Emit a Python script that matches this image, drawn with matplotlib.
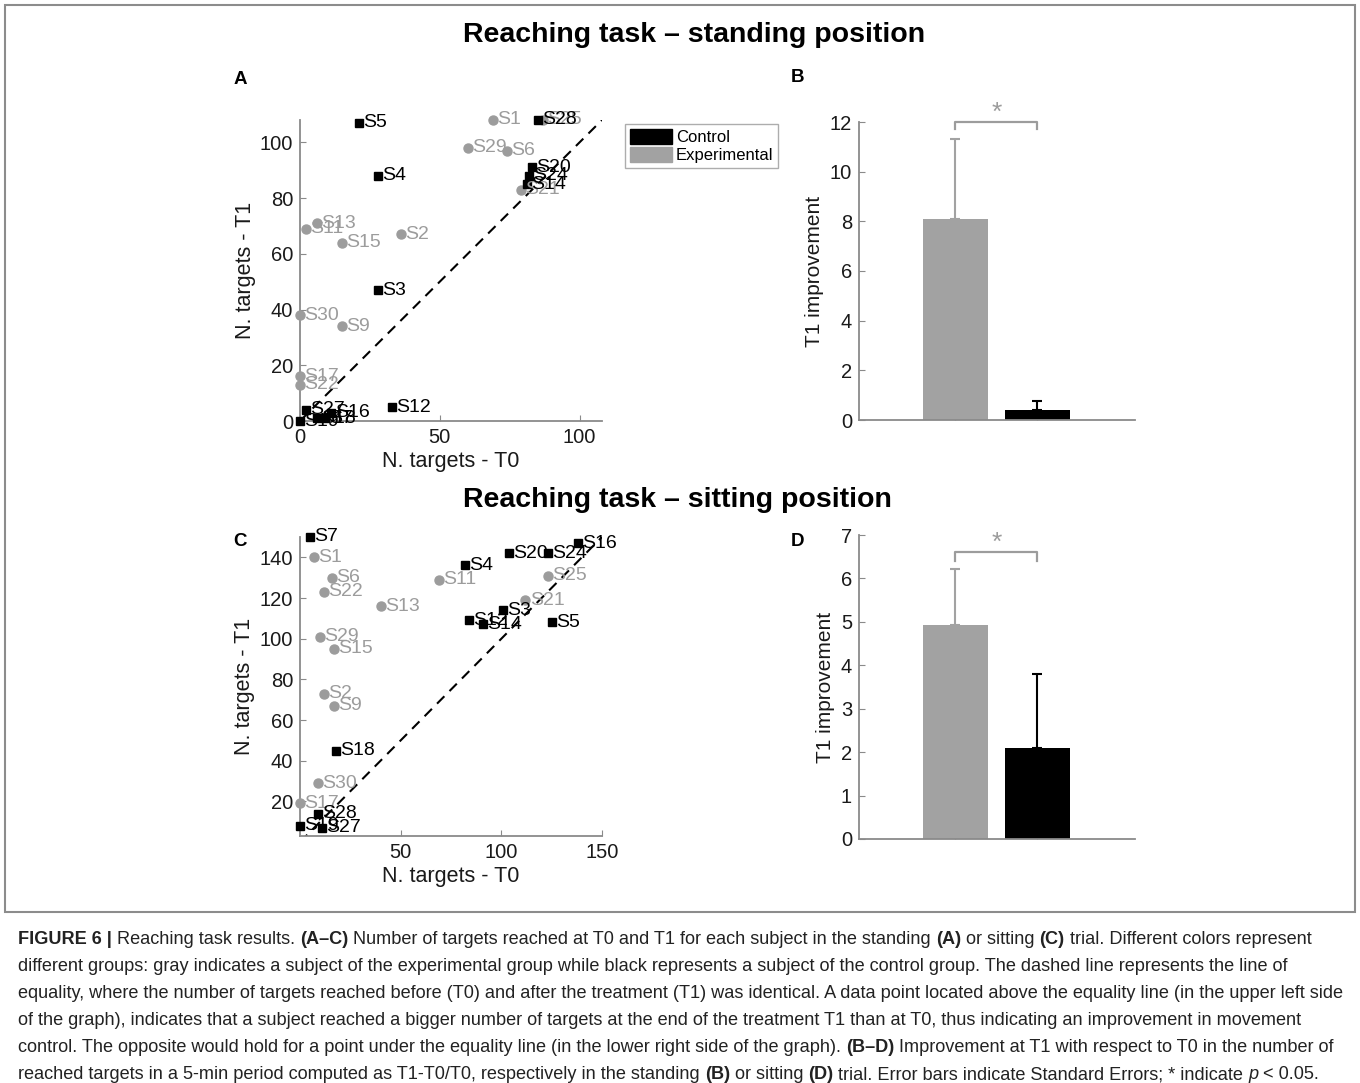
import matplotlib
matplotlib.use('Agg')
import matplotlib.pyplot as plt
from matplotlib.patches import Patch, Rectangle

plt.rcParams['font.family'] = ['Liberation Sans', 'DejaVu Sans']

# ---- data -------------------------------------------------------------
# standing position (panel A): T0 / T1 per subject
a_ctrl_names = ['S5', 'S28', 'S4', 'S20', 'S24', 'S14', 'S3', 'S12', 'S27', 'S16', 'S18', 'S7', 'S19']
a_ctrl_t0 = [21, 85, 28, 83, 82, 81, 28, 33, 2, 11, 6, 9, 0]
a_ctrl_t1 = [107, 108, 88, 91, 88, 85, 47, 5, 4, 3, 1, 1, 0]
a_exp_names = ['S1', 'S25', 'S29', 'S6', 'S21', 'S13', 'S11', 'S15', 'S2', 'S30', 'S9', 'S17', 'S22']
a_exp_t0 = [69, 87, 60, 74, 79, 6, 2, 15, 36, 0, 15, 0, 0]
a_exp_t1 = [108, 108, 98, 97, 83, 71, 69, 64, 67, 38, 34, 16, 13]

# sitting position (panel C)
c_ctrl_names = ['S7', 'S4', 'S20', 'S24', 'S16', 'S3', 'S12', 'S14', 'S5', 'S18', 'S28', 'S19', 'S27']
c_ctrl_t0 = [5, 82, 104, 123, 138, 101, 84, 91, 125, 18, 9, 0, 11]
c_ctrl_t1 = [150, 136, 142, 142, 147, 114, 109, 107, 108, 45, 14, 8, 7]
c_exp_names = ['S1', 'S6', 'S22', 'S13', 'S11', 'S25', 'S21', 'S29', 'S15', 'S2', 'S9', 'S30', 'S17']
c_exp_t0 = [7, 16, 12, 40, 69, 123, 112, 10, 17, 12, 17, 9, 0]
c_exp_t1 = [140, 130, 123, 116, 129, 131, 119, 101, 95, 73, 67, 29, 19]

# T1 improvement (panels B, D): experimental, control
groups = ['Experimental', 'Control']
b_means = [8.1, 0.4]
b_se = [3.2, 0.35]
d_means = [4.93, 2.1]
d_se = [1.29, 1.7]

GRAY = '#9c9c9c'
BARGRAY = '#a2a2a2'
SPINE = '#8a8a8a'
TXT = '#1a1a1a'

W, H = 1360, 1083
fig = plt.figure(figsize=(W / 100, H / 100), dpi=100)


def box(l, t, r, b):
  return [l / W, 1 - b / H, (r - l) / W, (b - t) / H]


def style_axes(ax):
  for s in ['top', 'right']:
    ax.spines[s].set_visible(False)
  for s in ['left', 'bottom']:
    ax.spines[s].set_color(SPINE)
    ax.spines[s].set_linewidth(1.3)
  ax.tick_params(direction='in', length=4, color=SPINE, labelsize=14.5,
                 labelcolor=TXT, pad=5)


def scatter_panel(ax, lim, ctrl, exp):
  ax.plot([0, lim], [0, lim], color='k', lw=1.5, linestyle=(0, (5, 3.5)))
  for names, t0, t1, col, mk, ms in [exp + (GRAY, 'o', 6.5), ctrl + ('k', 's', 5.5)]:
    ax.plot(t0, t1, linestyle='none', marker=mk, ms=ms, color=col,
            clip_on=False, zorder=3)
    for n, x, y in zip(names, t0, t1):
      ax.annotate(n, (x, y), xytext=(3, 0), textcoords='offset points',
                  va='center', ha='left', fontsize=14, color=col,
                  annotation_clip=False, zorder=4)
  ax.set_xlabel('N. targets - T0', fontsize=15.5, color=TXT, labelpad=3)
  ax.set_ylabel('N. targets - T1', fontsize=15.5, color=TXT, labelpad=3)
  style_axes(ax)


def bar_panel(ax, means, se, ymax, yticks, bracket_y):
  xs = [1, 2]
  cols = [BARGRAY, 'k']
  ax.bar(xs, means, width=0.79, color=cols, zorder=2)
  for x, m, e, c in zip(xs, means, se, cols):
    ax.errorbar([x], [m], yerr=[[0], [e]], color=c, lw=1.5, capsize=3.5,
                capthick=1.5, zorder=3)
  ax.set_xlim(-0.177, 3.19)
  ax.set_ylim(0, ymax)
  ax.set_yticks(yticks)
  ax.set_xticks(xs)
  ax.set_xticklabels([])
  ax.set_ylabel('T1 improvement', fontsize=15, color=TXT, labelpad=4)
  style_axes(ax)
  ax.tick_params(axis='x', length=3)
  top, leg = bracket_y
  ax.plot([1, 1, 2, 2], [leg, top, top, leg], color=GRAY, lw=1.6, clip_on=False)
  ax.annotate('*', (1.5, top), xytext=(0, -2), textcoords='offset points',
              ha='center', va='bottom', fontsize=19, color=GRAY,
              annotation_clip=False)


# panel A
axA = fig.add_axes(box(300, 120, 602, 421))
scatter_panel(axA, 108, (a_ctrl_names, a_ctrl_t0, a_ctrl_t1),
              (a_exp_names, a_exp_t0, a_exp_t1))
axA.set_xlim(0, 108)
axA.set_ylim(0, 108)
axA.set_xticks([0, 50, 100])
axA.set_yticks([0, 20, 40, 60, 80, 100])

# panel C
axC = fig.add_axes(box(300, 537, 602, 836))
scatter_panel(axC, 150, (c_ctrl_names, c_ctrl_t0, c_ctrl_t1),
              (c_exp_names, c_exp_t0, c_exp_t1))
axC.set_xlim(0, 150)
axC.set_ylim(3, 150)
axC.set_xticks([50, 100, 150])
axC.set_yticks([20, 40, 60, 80, 100, 120, 140])

# panels B, D
axB = fig.add_axes(box(859, 122, 1135, 420))
bar_panel(axB, b_means, b_se, 12, range(0, 13, 2), (12.0, 11.7))
axD = fig.add_axes(box(859, 535, 1135, 839))
bar_panel(axD, d_means, d_se, 7, range(0, 8), (6.6, 6.41))

# legend
fig.legend([Patch(color='k'), Patch(color=BARGRAY)], ['Control', 'Experimental'],
           loc='upper left', bbox_to_anchor=(625 / W, 1 - 124 / H), borderaxespad=0,
           fontsize=12, frameon=True, fancybox=False, edgecolor='#999999',
           handlelength=2.5, handleheight=1.0, borderpad=0.3, labelspacing=0.12,
           handletextpad=0.25)

# titles and panel letters
fig.text(694 / W, 1 - 35 / H, 'Reaching task \u2013 standing position', ha='center',
         va='center', fontsize=20.5, weight='bold')
fig.text(677 / W, 1 - 500 / H, 'Reaching task \u2013 sitting position', ha='center',
         va='center', fontsize=20.5, weight='bold')
for lab, x, y in [('A', 240, 80), ('B', 797, 77), ('C', 240, 541), ('D', 797, 541)]:
  fig.text(x / W, 1 - y / H, lab, ha='center', va='center', fontsize=13.5, weight='bold')

# frame around the figure part
fig.patches.append(Rectangle((5 / W, 1 - 912 / H), 1350 / W, 907 / H,
                             transform=fig.transFigure, fill=False,
                             edgecolor='#8c8c8c', lw=1.5))

# caption, drawn run by run so bold/italic parts can be mixed
CAP_FONT = ['Liberation Sans Narrow', 'Liberation Sans']
CAP_SIZE = 13.05
N, B, I = ('normal', 'normal'), ('bold', 'normal'), ('normal', 'italic')
caption = [
  [('FIGURE 6 |', B), (' Reaching task results. ', N), ('(A\u2013C)', B),
   (' Number of targets reached at T0 and T1 for each subject in the standing ', N),
   ('(A)', B), (' or sitting ', N), ('(C)', B), (' trial. Different colors represent', N)],
  [('different groups: gray indicates a subject of the experimental group while black '
    'represents a subject of the control group. The dashed line represents the line of', N)],
  [('equality, where the number of targets reached before (T0) and after the treatment '
    '(T1) was identical. A data point located above the equality line (in the upper left side', N)],
  [('of the graph), indicates that a subject reached a bigger number of targets at the end '
    'of the treatment T1 than at T0, thus indicating an improvement in movement', N)],
  [('control. The opposite would hold for a point under the equality line (in the lower '
    'right side of the graph). ', N), ('(B\u2013D)', B),
   (' Improvement at T1 with respect to T0 in the number of', N)],
  [('reached targets in a 5-min period computed as T1-T0/T0, respectively in the standing ', N),
   ('(B)', B), (' or sitting ', N), ('(D)', B),
   (' trial. Error bars indicate Standard Errors; * indicate ', N), ('p', I), (' < 0.05.', N)],
]

renderer = fig.canvas.get_renderer()


def run_width(txt, weight, style):
  t1 = fig.text(0, 0, txt + '|', fontsize=CAP_SIZE, family=CAP_FONT, weight=weight, style=style)
  t2 = fig.text(0, 0, '|', fontsize=CAP_SIZE, family=CAP_FONT, weight=weight, style=style)
  w = t1.get_window_extent(renderer).width - t2.get_window_extent(renderer).width
  t1.remove()
  t2.remove()
  return w


for i, line in enumerate(caption):
  x = 18.0
  y = 944 + i * 27.0
  for txt, (weight, style) in line:
    fig.text(x / W, 1 - y / H, txt, fontsize=CAP_SIZE, family=CAP_FONT,
             weight=weight, style=style, va='baseline', ha='left', color='#222222')
    x += run_width(txt, weight, style)

fig.savefig('out.png', dpi=100)
